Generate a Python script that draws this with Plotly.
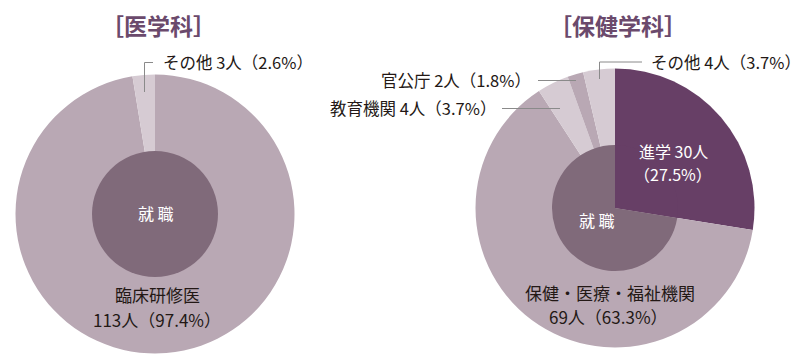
import plotly.graph_objects as go

W, H = 805, 361

# ---- data ----
med_labels = ["臨床研修医", "その他"]
med_counts = [113, 3]
med_pcts = [97.4, 2.6]

hs_labels = ["進学", "保健・医療・福祉機関", "教育機関", "官公庁", "その他"]
hs_counts = [30, 69, 4, 2, 4]
hs_pcts = [27.5, 63.3, 3.7, 1.8, 3.7]

titles = ["［医学科］", "［保健学科］"]
center_label = "就 職"

# ---- styles ----
C_MID = "#b9a8b4"
C_LIGHT = "#d6cbd3"
C_DARK = "#806a7a"
C_PURPLE = "#673f66"
C_TITLE = "#6b4a6c"
C_TEXT = "#231815"
FONT = "Noto Sans CJK JP"

def px_x(x):
    return x / W

def px_y(y):
    return 1 - y / H

def domain(cx, cy, r):
    return dict(x=[px_x(cx - r), px_x(cx + r)], y=[px_y(cy + r), px_y(cy - r)])

R_OUT, R_IN = 139.5, 63
L_C = (155, 214)
R_C = (615, 208)

fig = go.Figure()

# left outer
fig.add_trace(go.Pie(
    values=med_counts, labels=med_labels, sort=False, direction="clockwise", rotation=0,
    marker=dict(colors=[C_MID, C_LIGHT], line=dict(width=0)),
    textinfo="none", hoverinfo="label+value", domain=domain(*L_C, R_OUT), showlegend=False))
# left inner (就職)
fig.add_trace(go.Pie(
    values=[sum(med_counts)], labels=["就職"], sort=False,
    marker=dict(colors=[C_DARK], line=dict(width=0)),
    textinfo="none", hoverinfo="label", domain=domain(*L_C, R_IN), showlegend=False))

# right outer
fig.add_trace(go.Pie(
    values=hs_counts, labels=hs_labels, sort=False, direction="clockwise", rotation=0,
    marker=dict(colors=[C_PURPLE, C_MID, C_LIGHT, C_MID, C_LIGHT], line=dict(width=0)),
    textinfo="none", hoverinfo="label+value", domain=domain(*R_C, R_OUT), showlegend=False))
# right inner: 進学 vs 就職
fig.add_trace(go.Pie(
    values=[hs_counts[0], sum(hs_counts[1:])], labels=[hs_labels[0], "就職"], sort=False,
    direction="clockwise", rotation=0,
    marker=dict(colors=[C_PURPLE, C_DARK], line=dict(width=0)),
    textinfo="none", hoverinfo="label+value", domain=domain(*R_C, R_IN), showlegend=False))

def lab(names, counts, pcts, i):
    return f"{names[i]} {counts[i]}人（{pcts[i]}%）"

ann = []
def add(text, x, y, xanchor="center", color=C_TEXT, size=17, **kw):
    ann.append(dict(text=text, x=px_x(x), y=px_y(y), xref="paper", yref="paper",
                    xanchor=xanchor, yanchor="middle", showarrow=False,
                    font=dict(family=FONT, size=size, color=color), **kw))

# titles
add(f"<b>{titles[0]}</b>", 158, 25, size=23, color=C_TITLE)
add(f"<b>{titles[1]}</b>", 618, 25, size=23, color=C_TITLE)

# centers
add(center_label, 156, 213, color="white", size=16)
add(center_label, 597, 220, color="white", size=16)

# left labels
add(med_labels[0], 157, 294)
add(f"{med_counts[0]}人（{med_pcts[0]}%）", 157, 319)
add(lab(med_labels, med_counts, med_pcts, 1), 161, 62, xanchor="left", size=16.5)

# right labels
add(f"{hs_labels[0]} {hs_counts[0]}人", 637, 150.5, xanchor="left", color="white", size=16)
add(f"（{hs_pcts[0]}%）", 632, 174, xanchor="left", color="white", size=16)
add(hs_labels[1], 610, 292)
add(f"{hs_counts[1]}人（{hs_pcts[1]}%）", 608, 316)
add(lab(hs_labels, hs_counts, hs_pcts, 4), 649, 62, xanchor="left", size=16.5)
add(lab(hs_labels, hs_counts, hs_pcts, 3), 533, 80, xanchor="right", size=16.5)
add(lab(hs_labels, hs_counts, hs_pcts, 2), 498, 108, xanchor="right", size=16.5)

# leader lines
LC = "#8a8a8a"
def path(pts):
    d = "M " + " L ".join(f"{px_x(x)},{px_y(y)}" for x, y in pts)
    return dict(type="path", path=d, xref="paper", yref="paper", line=dict(color=LC, width=1))

shapes = [
    path([(144.5, 92), (144.5, 62.5), (153, 62.5)]),
    path([(599.5, 79), (599.5, 62), (642, 62)]),
    path([(538, 80.5), (576, 80.5)]),
    path([(502, 108.5), (560, 108.5)]),
]

fig.update_layout(
    width=W, height=H, margin=dict(l=0, r=0, t=0, b=0),
    paper_bgcolor="white", plot_bgcolor="white",
    annotations=ann, shapes=shapes,
    font=dict(family=FONT),
)

fig.write_html("out.html", config={"displayModeBar": False},
               post_script="document.body.style.margin='0';")
